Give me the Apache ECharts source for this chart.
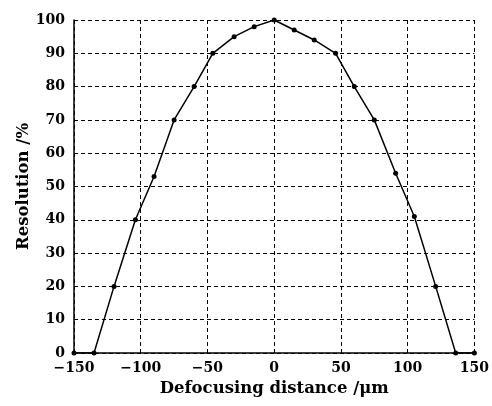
<!DOCTYPE html>
<html>
<head>
<meta charset="utf-8">
<script src="https://cdn.jsdelivr.net/npm/echarts@6/dist/echarts.min.js"></script>
<style>
  html, body { margin: 0; padding: 0; background: #fff; }
  #chart { width: 492px; height: 406px; }
</style>
</head>
<body>
<div id="chart"></div>
<script>
// defocusing distance (um) and resolution (%)
const distance = [-150, -135, -120, -104, -90, -75, -60, -46, -30, -15, 0, 15, 30, 46, 60, 75, 91, 105, 121, 136, 150];
const resolution = [0, 0, 20, 40, 53, 70, 80, 90, 95, 98, 100, 97, 94, 90, 80, 70, 54, 41, 20, 0, 0];

const points = distance.map((d, i) => [d, resolution[i]]);

const chart = echarts.init(document.getElementById("chart"));
const font = "DejaVu Serif";

const dashed = {
  show: true,
  lineStyle: { color: "#000", type: [4, 3], width: 1 },
};

const option = {
  animation: false,
  grid: {
    left: 74,
    right: 15,
    top: 20,
    bottom: 53,
  },
  xAxis: {
    type: "value",
    min: -150,
    max: 150,
    interval: 50,
    name: "Defocusing distance /μm",
    nameLocation: "middle",
    nameGap: 27,
    nameMoveOverlap: false,
    nameTextStyle: { fontFamily: font, fontSize: 16.5, color: "#000", fontWeight: "bold" },
    axisLine: { show: true, onZero: false, lineStyle: { color: "#000", width: 1.5 } },
    axisTick: { show: false },
    axisLabel: {
      fontFamily: font,
      fontSize: 14,
      fontWeight: "bold",
      color: "#000",
      margin: 8,
      formatter: (v) => String(v).replace("-", "\u2212"),
    },
    splitLine: dashed,
  },
  yAxis: {
    type: "value",
    min: 0,
    max: 100,
    interval: 10,
    name: "Resolution /%",
    nameLocation: "middle",
    nameGap: 42,
    nameMoveOverlap: false,
    nameTextStyle: { fontFamily: font, fontSize: 16.5, color: "#000", fontWeight: "bold" },
    axisLine: { show: true, onZero: false, lineStyle: { color: "#000", width: 1.5 } },
    axisTick: { show: false },
    axisLabel: {
      fontFamily: font,
      fontSize: 14,
      fontWeight: "bold",
      color: "#000",
      margin: 9,
    },
    splitLine: dashed,
  },
  series: [
    {
      type: "line",
      data: points,
      symbol: "circle",
      symbolSize: 5,
      itemStyle: { color: "#000" },
      lineStyle: { color: "#000", width: 1.5 },
    },
  ],
};

chart.setOption(option);
</script>
</body>
</html>
